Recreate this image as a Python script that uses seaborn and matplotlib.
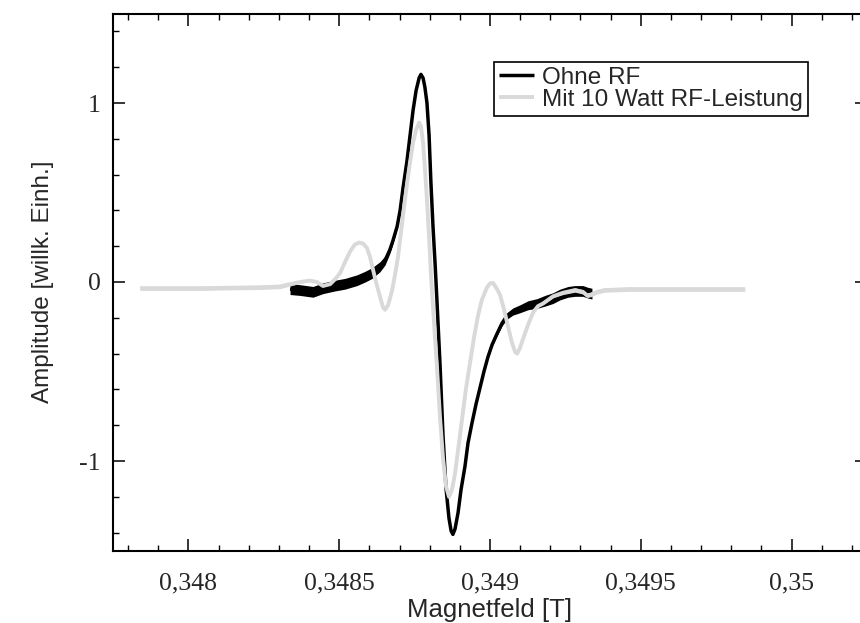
import matplotlib
matplotlib.use("Agg")
import matplotlib.pyplot as plt
import numpy as np
import pandas as pd
import seaborn as sns
from matplotlib.ticker import MultipleLocator

# ---------------- data ----------------
ohne_rf_x = [0.348337, 0.348370, 0.348413, 0.348446, 0.348486, 0.348519, 0.348559,
             0.348586, 0.348609, 0.348635, 0.348652, 0.348668, 0.348678, 0.348692,
             0.348702, 0.348712, 0.348725, 0.348735, 0.348745, 0.348755, 0.348765,
             0.348771, 0.348778, 0.348784, 0.348791, 0.348798, 0.348804, 0.348811,
             0.348818, 0.348824, 0.348834, 0.348844, 0.348854, 0.348864, 0.348871,
             0.348877, 0.348884, 0.348894, 0.348904, 0.348917, 0.348927, 0.348940,
             0.348954, 0.348967, 0.348980, 0.348993, 0.349007, 0.349023, 0.349040,
             0.349056, 0.349076, 0.349099, 0.349126, 0.349156, 0.349182, 0.349209,
             0.349232, 0.349259, 0.349282, 0.349308, 0.349325, 0.349338]
ohne_rf_y = [-0.04, -0.045, -0.055, -0.035, -0.02, -0.01, 0.01,
             0.03, 0.05, 0.085, 0.12, 0.18, 0.23, 0.31,
             0.40, 0.53, 0.68, 0.82, 0.96, 1.07, 1.14,
             1.16, 1.14, 1.09, 1.00, 0.82, 0.56, 0.31,
             0.10, -0.10, -0.45, -0.85, -1.15, -1.32, -1.39,
             -1.41, -1.38, -1.29, -1.16, -1.03, -0.90, -0.79,
             -0.68, -0.59, -0.50, -0.42, -0.35, -0.29, -0.23,
             -0.19, -0.165, -0.15, -0.13, -0.12, -0.105, -0.09,
             -0.07, -0.055, -0.05, -0.05, -0.06, -0.065]
# half width of the visible noise band around the black trace
ohne_rf_noise = [0.03, 0.03, 0.03, 0.03, 0.03, 0.03, 0.03,
                 0.03, 0.03, 0.028, 0.025, 0.02, 0.016, 0.012,
                 0.008, 0.005, 0.004, 0.004, 0.004, 0.005, 0.006,
                 0.006, 0.004, 0.002, 0.0, 0.0, 0.0, 0.0,
                 0.0, 0.0, 0.0, 0.0, 0.0, 0.002, 0.004,
                 0.005, 0.004, 0.002, 0.0, 0.0, 0.002, 0.003,
                 0.004, 0.005, 0.006, 0.007, 0.009, 0.012, 0.015,
                 0.018, 0.02, 0.022, 0.025, 0.027, 0.03, 0.03,
                 0.03, 0.03, 0.03, 0.03, 0.03, 0.03]

mit_rf_x = [0.347840, 0.347939, 0.348038, 0.348138, 0.348237, 0.348304, 0.348337,
            0.348370, 0.348403, 0.348426, 0.348446, 0.348470, 0.348489, 0.348503,
            0.348519, 0.348536, 0.348552, 0.348566, 0.348579, 0.348592, 0.348602,
            0.348612, 0.348622, 0.348635, 0.348645, 0.348652, 0.348662, 0.348675,
            0.348685, 0.348695, 0.348705, 0.348715, 0.348725, 0.348735, 0.348745,
            0.348755, 0.348765, 0.348771, 0.348778, 0.348784, 0.348791, 0.348798,
            0.348804, 0.348811, 0.348818, 0.348824, 0.348834, 0.348844, 0.348854,
            0.348864, 0.348874, 0.348884, 0.348894, 0.348907, 0.348920, 0.348934,
            0.348947, 0.348960, 0.348973, 0.348990, 0.349000, 0.349010, 0.349020,
            0.349033, 0.349046, 0.349060, 0.349073, 0.349083, 0.349090, 0.349099,
            0.349109, 0.349126, 0.349143, 0.349159, 0.349176, 0.349209, 0.349242,
            0.349282, 0.349308, 0.349322, 0.349335, 0.349355, 0.349381, 0.349464,
            0.349564, 0.349663, 0.349763, 0.349845]
mit_rf_y = [-0.035, -0.035, -0.035, -0.032, -0.03, -0.025, -0.012,
            0.0, 0.008, 0.0, -0.022, -0.012, 0.02, 0.05,
            0.11, 0.17, 0.21, 0.22, 0.215, 0.19, 0.14,
            0.07, 0.0, -0.08, -0.14, -0.155, -0.13, -0.05,
            0.04, 0.14, 0.28, 0.42, 0.55, 0.67, 0.78,
            0.85, 0.89, 0.87, 0.78, 0.64, 0.46, 0.25,
            0.05, -0.14, -0.32, -0.47, -0.75, -0.98, -1.14,
            -1.20, -1.16, -1.07, -0.94, -0.77, -0.60, -0.45,
            -0.31, -0.19, -0.10, -0.03, -0.008, -0.005, -0.03,
            -0.07, -0.15, -0.25, -0.34, -0.39, -0.40, -0.37,
            -0.32, -0.24, -0.17, -0.135, -0.12, -0.08, -0.06,
            -0.045, -0.055, -0.075, -0.07, -0.055, -0.045, -0.04,
            -0.04, -0.04, -0.04, -0.04]
mit_rf_noise = [0.012, 0.012, 0.012, 0.012, 0.012, 0.012, 0.01,
                0.008, 0.006, 0.006, 0.006, 0.005, 0.004, 0.003,
                0.002, 0.0, 0.0, 0.0, 0.0, 0.0, 0.0,
                0.0, 0.0, 0.0, 0.0, 0.0, 0.0, 0.0,
                0.0, 0.0, 0.0, 0.0, 0.0, 0.0, 0.0,
                0.0, 0.0, 0.0, 0.0, 0.0, 0.0, 0.0,
                0.0, 0.0, 0.0, 0.0, 0.0, 0.0, 0.0,
                0.0, 0.0, 0.0, 0.0, 0.0, 0.0, 0.0,
                0.0, 0.0, 0.0, 0.0, 0.0, 0.0, 0.0,
                0.0, 0.0, 0.0, 0.0, 0.0, 0.0, 0.0,
                0.0, 0.0, 0.002, 0.004, 0.006, 0.008, 0.01,
                0.012, 0.012, 0.012, 0.012, 0.012, 0.012, 0.012,
                0.012, 0.012, 0.012, 0.012]

series_names = ["Ohne RF", "Mit 10 Watt RF-Leistung"]
x_ticks = [0.348, 0.3485, 0.349, 0.3495, 0.35]
x_tick_labels = ["0,348", "0,3485", "0,349", "0,3495", "0,35"]
y_ticks = [-1, 0, 1]
y_tick_labels = ["-1", "0", "1"]

# ---------------- styling ----------------
sns.set_style("ticks")
plt.rcParams['font.family'] = ['Liberation Sans', 'DejaVu Sans']

black = "#000000"
grey = "#d9d9d9"

df = pd.concat([
    pd.DataFrame({"B": ohne_rf_x, "A": ohne_rf_y, "N": ohne_rf_noise, "Serie": series_names[0]}),
    pd.DataFrame({"B": mit_rf_x, "A": mit_rf_y, "N": mit_rf_noise, "Serie": series_names[1]}),
], ignore_index=True)

fig = plt.figure(figsize=(8.6, 6.23), dpi=100)
ax = fig.add_axes([113 / 860, 1 - 550.5 / 623, 754 / 860, 537 / 623])

styles = {series_names[0]: dict(color=black, lw=2.5, z=2),
          series_names[1]: dict(color=grey, lw=2.8, z=3)}
for name in series_names:
    sub = df[df["Serie"] == name]
    st = styles[name]
    ax.fill_between(sub["B"], sub["A"] - sub["N"], sub["A"] + sub["N"],
                    color=st["color"], lw=0, zorder=st["z"])
    sns.lineplot(data=sub, x="B", y="A", ax=ax, color=st["color"], lw=st["lw"],
                 sort=False, estimator=None, zorder=st["z"], label=name,
                 solid_joinstyle="round", solid_capstyle="butt")

ax.set_xlim(0.34775, 0.35025)
ax.set_ylim(-1.5, 1.5)

serif = ['Liberation Serif', 'DejaVu Serif']
ax.set_xticks(x_ticks)
ax.set_xticklabels(x_tick_labels, family=serif, fontsize=18.5)
ax.set_yticks(y_ticks)
ax.set_yticklabels(y_tick_labels, family=serif, fontsize=18.5)
ax.xaxis.set_minor_locator(MultipleLocator(0.0001))
ax.yaxis.set_minor_locator(MultipleLocator(0.2))
ax.tick_params(which="both", direction="in", top=True, right=True, color="black")
ax.tick_params(which="major", length=8.6, width=1.1)
ax.tick_params(which="minor", length=4.3, width=1.0)
ax.tick_params(axis="x", which="major", pad=16)
ax.tick_params(axis="y", which="major", pad=9)
for sp in ax.spines.values():
    sp.set_linewidth(1.5)
    sp.set_color("black")

ax.set_xlabel("Magnetfeld [T]", fontsize=18.5, labelpad=2)
ax.set_ylabel("Amplitude [willk. Einh.]", fontsize=17.5, labelpad=18)

leg = ax.legend(loc="upper center", bbox_to_anchor=(651 / 860, 1 - 62 / 623),
                bbox_transform=fig.transFigure, frameon=True, fancybox=False,
                fontsize=17.5, handlelength=1.45, handletextpad=0.35,
                borderpad=0.2, labelspacing=0.0, borderaxespad=0.0)
leg.get_frame().set_edgecolor("black")
leg.get_frame().set_linewidth(1.2)
leg.get_frame().set_alpha(1.0)

fig.savefig("out.png", dpi=100)
